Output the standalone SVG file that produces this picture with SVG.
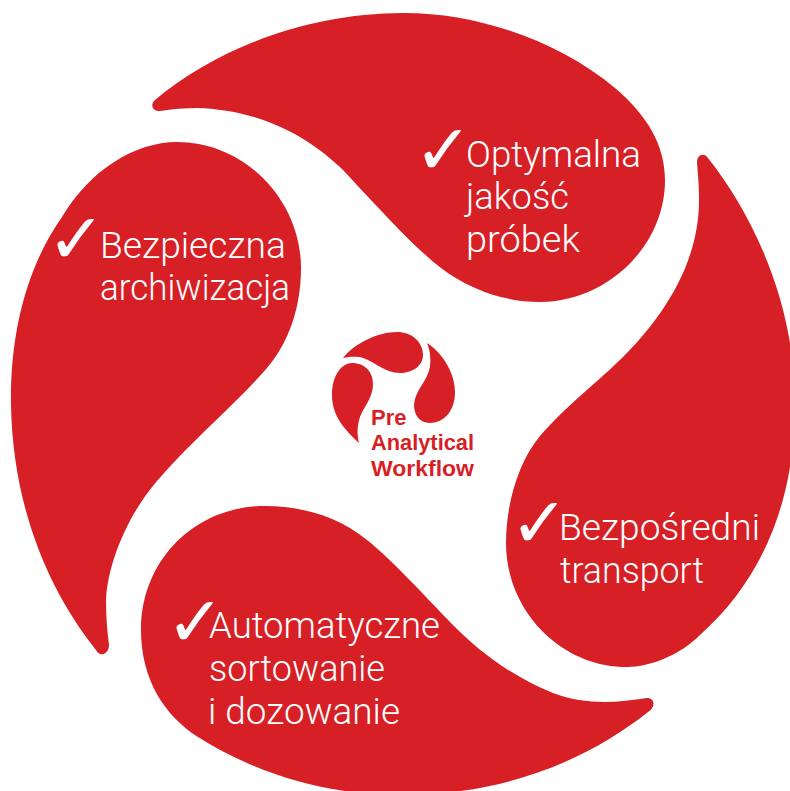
<svg xmlns="http://www.w3.org/2000/svg" width="790" height="791" viewBox="0 0 790 791">
<style>
.p{fill:#d71f26}
.t{font-family:Roboto,"Liberation Sans",Arial,sans-serif;font-weight:300;font-size:37px;fill:#fff}
.c{font-family:"DejaVu Sans",sans-serif;font-size:70px;fill:#fff;letter-spacing:-18px}
.l{font-family:"Liberation Sans",Arial,sans-serif;font-size:22px;font-weight:700;fill:#d71f26}
</style>
<rect width="790" height="791" fill="#fff"/>
<g id="petal-top"><path class="p" d="M155,100C215,50 305,13 404,13C480,13 560,42 615,88C648,116 665,146 665,180C665,248 605,302 540,302C505,302 470,290 441,268C415,248 385,215 343,170C312,140 265,110 197,108C185,108 172,109 160,111C152,112 150,104 155,100Z"/>
<text class="c" x="414" y="174">✓</text><text class="t" x="466" y="167" textLength="175" lengthAdjust="spacingAndGlyphs">Optymalna</text><text class="t" x="466" y="209" textLength="103" lengthAdjust="spacingAndGlyphs">jakość</text><text class="t" x="466" y="252" textLength="114" lengthAdjust="spacingAndGlyphs">próbek</text></g>
<g id="petal-right"><path class="p" d="M697,163C697,153 705,153 708,158C745,205 778,270 790,343C796,380 796,430 790,467C778,540 745,595 700,635C680,655 650,667 627,667C560,667 506,610 506,543C506,505 518,462 540,436C570,402 600,380 623,357C660,320 700,265 699,198C699,185 698,175 697,163Z"/>
<text class="c" x="510" y="547">✓</text><text class="t" x="559" y="540" textLength="201" lengthAdjust="spacingAndGlyphs">Bezpośredni</text><text class="t" x="560" y="583" textLength="144" lengthAdjust="spacingAndGlyphs">transport</text></g>
<g id="petal-bottom"><path class="p" d="M647,698C655,698 656,707 648,712C600,750 520,795 400,795C320,795 250,770 198,737C165,716 141,680 141,630C141,560 195,506 265,506C305,506 340,518 367,540C390,558 425,596 451,623C480,653 515,678 553,693C585,705 615,703 647,698Z"/>
<text class="c" x="166" y="646">✓</text><text class="t" x="209" y="638" textLength="231" lengthAdjust="spacingAndGlyphs">Automatyczne</text><text class="t" x="209" y="681" textLength="176" lengthAdjust="spacingAndGlyphs">sortowanie</text><text class="t" x="208" y="724" textLength="192" lengthAdjust="spacingAndGlyphs">i dozowanie</text></g>
<g id="petal-left"><path class="p" d="M109,645C109,654 100,658 96,650C50,592 13,510 11,405C10,330 28,265 62,217C90,170 135,142 177,142C245,142 301,200 301,268C301,310 287,345 267,368C235,405 195,437 157,481C130,512 108,560 106,600C106,615 107,630 109,645Z"/>
<text class="c" x="47" y="263">✓</text><text class="t" x="100" y="258" textLength="186" lengthAdjust="spacingAndGlyphs">Bezpieczna</text><text class="t" x="100" y="300" textLength="190" lengthAdjust="spacingAndGlyphs">archiwizacja</text></g>
<g id="logo">
<path class="p" d="M343,358C355,343 378,332 397,332C412,332 423,342 423,355C423,366 412,373 400,373C385,373 375,362 363,358C356,356 350,357 343,358Z"/>
<path class="p" d="M427,343C445,355 455,375 455,392C455,412 443,423 430,423C419,423 414,414 414,405C415,390 427,382 430,367C431,358 430,350 427,343Z"/>
<path class="p" d="M359,443C343,428 332,415 332,395C332,375 342,363 352,363C365,363 373,372 373,384C373,398 364,406 360,417C357,426 357,435 359,443Z"/>
<text class="l" x="371" y="425">Pre</text><text class="l" x="371" y="450" textLength="103" lengthAdjust="spacingAndGlyphs">Analytical</text><text class="l" x="371" y="476" textLength="103" lengthAdjust="spacingAndGlyphs">Workflow</text></g>
</svg>
